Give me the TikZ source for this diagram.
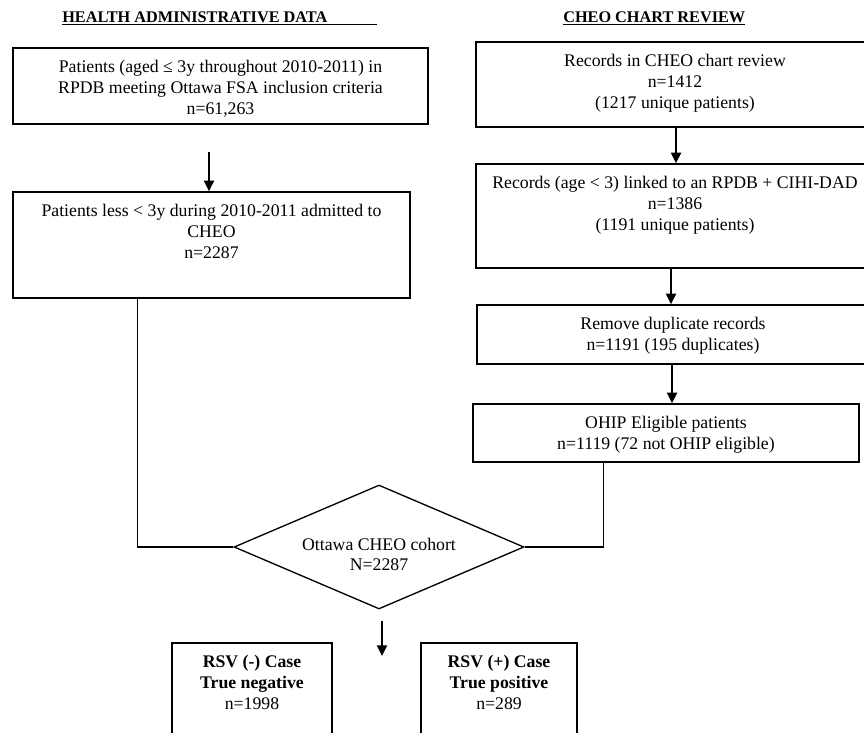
\documentclass[tikz,border=0pt]{standalone}
\usepackage{fontspec}
\setmainfont{Liberation Serif}
\usetikzlibrary{shapes.geometric,arrows.meta}
\begin{document}
\begin{tikzpicture}[x=0.75pt,y=-0.75pt,
  bx/.style={draw,line width=1pt,inner sep=0pt,rectangle},
  bxopen/.style={draw=none,inner sep=0pt,rectangle},
  txt/.style={anchor=north,inner sep=0pt,align=center,yshift=-8pt,font=\fontsize{13.3}{15.5}\selectfont},
  ttl/.style={anchor=base west,inner sep=0pt,font=\fontsize{12.2}{14}\selectfont\bfseries},
  ln/.style={line width=1pt},
  arr/.style={line width=1.5pt,-{Triangle[length=8pt,width=7.5pt]}}]
\useasboundingbox (0,0) rectangle (864,732);
\clip (0,0) rectangle (864,732);
\fill[white] (0,0) rectangle (864,732);

% titles
\node[ttl] (tl) at (62,22) {\underline{HEALTH ADMINISTRATIVE DATA\hspace{37.5pt}}};
\node[ttl] (tr) at (563,22) {\underline{CHEO CHART REVIEW}};

% left column
\node[bx,minimum width=311.25pt,minimum height=57pt] (b1) at (220.5,86) {};
\node[txt] (b1t) at (b1.north) {\strut Patients (aged ≤ 3y throughout 2010-2011) in\\RPDB meeting Ottawa FSA inclusion criteria\\n=61,263};
\node[bx,minimum width=297.75pt,minimum height=79.5pt] (b2) at (211.5,245) {};
\node[txt] (b2t) at (b2.north) {\strut Patients less < 3y during 2010-2011 admitted to\\CHEO\\n=2287};

% right column
\node[bx,minimum width=298.5pt,minimum height=63.75pt] (r1) at (675,84.5) {};
\node[txt] (r1t) at (r1.north) {\strut Records in CHEO chart review\\n=1412\\(1217 unique patients)};
\node[bx,minimum width=298.5pt,minimum height=78pt] (r2) at (675,216) {};
\node[txt] (r2t) at (r2.north) {\strut Records (age < 3) linked to an RPDB + CIHI-DAD\\n=1386\\(1191 unique patients)};
\node[bx,minimum width=294pt,minimum height=44.25pt] (r3) at (673,334.5) {};
\node[txt] (r3t) at (r3.north) {\strut Remove duplicate records\\n=1191 (195 duplicates)};
\node[bx,minimum width=289.5pt,minimum height=43.5pt] (oh) at (666,433) {};
\node[txt] (oht) at (oh.north) {\strut OHIP Eligible patients\\n=1119 (72 not OHIP eligible)};

% diamond
\node[draw,line width=1pt,diamond,minimum width=217.5pt,minimum height=93pt,inner sep=0pt] (dia) at (379,547) {};
\node[txt,yshift=16.6pt] (diat) at (dia.center) {\strut Ottawa CHEO cohort\\N=2287};

% bottom boxes
\node[bx,minimum width=120pt,minimum height=87pt] (neg) at (252,701) {};
\node[txt] (negt) at (neg.north) {\strut\textbf{RSV (-) Case}\\\textbf{True negative}\\n=1998};
\node[bx,minimum width=117pt,minimum height=87pt] (pos) at (499,701) {};
\node[txt] (post) at (pos.north) {\strut\textbf{RSV (+) Case}\\\textbf{True positive}\\n=289};

% connectors
\coordinate (a0) at (209,152);
\draw[arr] (a0) -- (a0 |- b2.north);
\draw[ln] ([xshift=93.75pt]b2.south west) |- (dia.west);
\draw[ln] ([xshift=98.25pt]oh.south west) |- (dia.east);
\draw[arr] ([xshift=0.75pt]r1.south) -- ([xshift=0.75pt]r1.south |- r2.north);
\draw[arr] ([xshift=-3pt]r2.south) -- ([xshift=-3pt]r2.south |- r3.north);
\draw[arr] ([xshift=-0.75pt]r3.south) -- ([xshift=-0.75pt]r3.south |- oh.north);
\coordinate (a5) at (382,621);
\coordinate (a5e) at (382,656);
\draw[arr] (a5) -- (a5e);
\end{tikzpicture}
\end{document}
